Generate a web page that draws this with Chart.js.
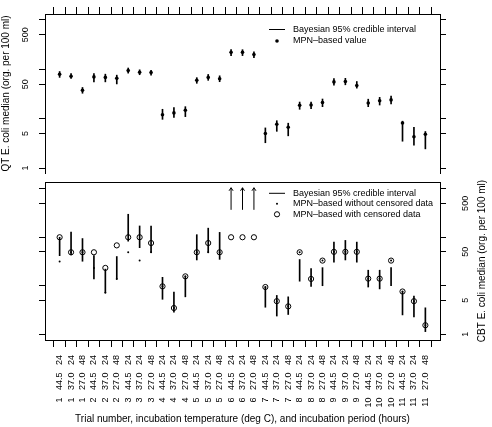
<!DOCTYPE html>
<html>
<head>
<meta charset="utf-8">
<script src="https://cdn.jsdelivr.net/npm/chart.js@4.4.1/dist/chart.umd.min.js"></script>
<style>
  html, body { margin: 0; padding: 0; background: #fff; }
  #wrap { position: relative; width: 492px; height: 427px; }
  canvas { position: absolute; left: 0; }
  #qtChart { top: 0; }
  #cbtChart { top: 177px; }
</style>
</head>
<body>
<div id="wrap">
  <canvas id="qtChart" width="492" height="177"></canvas>
  <canvas id="cbtChart" width="492" height="250"></canvas>
</div>
<script>
// ================================================================
// Dados
// ================================================================
const trialNo  = [1,1,1, 2,2,2, 3,3,3, 4,4,4, 5,5,5, 6,6,6, 7,7,7, 8,8,8, 9,9,9, 10,10,10, 11,11,11];
const incTemp  = ['44.5','37.0','27.0','44.5','37.0','27.0','44.5','37.0','27.0','44.5','37.0','27.0',
                  '44.5','37.0','27.0','44.5','37.0','27.0','44.5','37.0','27.0','44.5','37.0','27.0',
                  '44.5','37.0','27.0','44.5','37.0','27.0','44.5','37.0','27.0'];
const incHours = ['24','24','48','24','24','48','24','24','48','24','24','48',
                  '24','24','48','24','24','48','24','24','48','24','24','48',
                  '24','24','48','24','24','48','24','24','48'];

// QT (painel de cima)
const qtMpn  = [79, 72, 37.5, 70, 68.5, 65.5, 94, 87, 86, 12.0, 13.1, 14.8, 60, 68.5, 64.5, 220, 220, 198,
                5.0, 7.7, 6.7, 18.6, 18.9, 21.3, 55.5, 56.5, 47, 20.7, 23, 24, 8.2, 4.3, 4.85];
const qtLow  = [68.5, 65, 32.7, 55.6, 55.6, 50.5, 83.5, 77.5, 76, 9.7, 10.6, 11, 52, 59.7, 56, 189, 189, 172,
                3.26, 5.55, 4.5, 15.5, 16, 17.5, 47.5, 48.5, 41.5, 17.5, 18.9, 20, 3.5, 2.9, 2.45];
const qtHigh = [90, 82, 42.8, 82, 79.6, 76, 106, 97.5, 95.5, 15.5, 16.7, 17.5, 67.6, 78.5, 73.7, 249, 249, 226,
                6.5, 9.1, 8.1, 21.7, 21.7, 25, 64.5, 65.5, 56.5, 24.8, 27, 28.6, 8.9, 6.7, 5.5];

// CBT (painel de baixo) — null no limite superior = seta (fora da escala)
const cbtMpnCens   = [100, 49, 49, 49, 23.3, 68, 100, 100, 76, 9.7, 3.47, 15.6, 49, 76, 49, 100, 100, 100,
                      9.4, 4.8, 3.75, 49, 13.8, 33, 50, 50, 50, 14, 14, 33, 7.6, 4.8, 1.53];
const cbtMpnNoCens = [31.6, 49, 49, 23.3, 7.2, 13.8, 49, 33, 49, 9.7, 3.47, 15.6, 49, 49, 49, null, null, null,
                      9.4, 4.8, 3.75, 49, 13.8, 33, 50, 50, 50, 14, 14, 33, 7.6, 4.8, 1.53];
const cbtLow  = [41.7, 43, 32, 13.8, 7.2, 13.8, 83, 61, 49, 5.25, 2.84, 5.9, 34, 49, 35, 368, 368, 368,
                 3.6, 2.37, 2.55, 12.4, 9.7, 10, 30.6, 34, 30.6, 9.4, 8.6, 10, 2.5, 2.26, 1.13];
const cbtHigh = [100, 128, 94, 41.7, 22, 40, 298, 171, 171, 14.9, 7.4, 15.6, 113, 154, 126, null, null, null,
                 9.4, 6.3, 5.9, 34.7, 22.6, 23.6, 79.4, 86, 79.4, 20.9, 20.9, 23.6, 7.6, 6.1, 3.5];
const cbtArrowTop = 1050;

// Eixos
const yTicks   = [1, 5, 10, 50, 100, 500, 1000];
const yLabeled = [1, 5, 50, 500];
const catLabels = trialNo.map((t, i) => `${t}   ${incTemp[i]}   ${incHours[i]}`);

const FONT = '"Liberation Sans", Arial, Helvetica, sans-serif';
const legendQt  = ['Bayesian 95% credible interval', 'MPN\u2013based value'];
const legendCbt = ['Bayesian 95% credible interval', 'MPN\u2013based without censored data', 'MPN\u2013based with censored data'];

const pts = (ys) => ys.map((y, i) => ({ x: i + 1, y })).filter(p => p.y !== null);
const bars = (lo, hi) => lo.map((l, i) => ({ x: i + 1, y: hi[i] === null ? null : [l, hi[i]] })).filter(p => p.y !== null);


// ================================================================
// Escalas compartilhadas
// ================================================================
function xAxis(position, showLabels, height) {
    return {
        type: 'linear', position, min: -0.28, max: 34.28, bounds: 'data', offset: false,
        afterBuildTicks: s => { s.ticks = catLabels.map((_, i) => ({ value: i + 1 })); },
        afterFit: s => { s.height = height; },
        grid: { drawOnChartArea: false, drawTicks: true, tickLength: 7, tickColor: '#000' },
        border: { display: true, color: '#000' },
        ticks: {
            display: showLabels, autoSkip: false, minRotation: 90, maxRotation: 90, padding: 8,
            color: '#000', font: { family: FONT, size: 9 },
            callback: v => catLabels[v - 1]
        },
        title: {
            display: showLabels, color: '#000', font: { family: FONT, size: 10 },
            padding: { top: 0, bottom: 2 },
            text: 'Trial number, incubation temperature (deg C), and incubation period (hours)'
        }
    };
}

function yAxis(position, min, max, width, title) {
    return {
        type: 'logarithmic', position, min, max, bounds: 'data',
        afterBuildTicks: s => { s.ticks = yTicks.map(v => ({ value: v })); },
        afterFit: s => { s.width = width; },
        grid: { drawOnChartArea: false, drawTicks: true, tickLength: 6, tickColor: '#000' },
        border: { display: true, color: '#000' },
        ticks: { display: false },
        title: {
            display: !!title, text: title || '', color: '#000',
            font: { family: FONT, size: 10 }, padding: { top: 0, bottom: 0 }
        }
    };
}

function drawRotated(ctx, text, x, y) {
    ctx.save();
    ctx.translate(x, y);
    ctx.rotate(-Math.PI / 2);
    ctx.fillText(text, 0, 0);
    ctx.restore();
}

function drawLegend(ctx, items, y0, step) {
    ctx.font = '9px ' + FONT;
    ctx.textAlign = 'left';
    ctx.textBaseline = 'middle';
    items.forEach((txt, i) => ctx.fillText(txt, 293, y0 + i * step));
    ctx.beginPath();
    ctx.moveTo(269, y0);
    ctx.lineTo(285, y0);
    ctx.stroke();
}


// ================================================================
// 1) Painel de cima — QT
// ================================================================
const qtPlugin = {
    id: 'qtExtras',
    afterDraw(chart) {
        const { ctx } = chart;
        const ys = chart.scales.y;
        ctx.save();
        ctx.fillStyle = '#000';
        ctx.strokeStyle = '#000';
        ctx.lineWidth = 1;
        ctx.font = '9px ' + FONT;
        ctx.textAlign = 'center';
        ctx.textBaseline = 'middle';
        yLabeled.forEach(v => drawRotated(ctx, String(v), 25.5, ys.getPixelForValue(v)));

        drawLegend(ctx, legendQt, 29.5, 11.5);
        ctx.beginPath();
        ctx.arc(277, 41, 1.8, 0, Math.PI * 2);
        ctx.fill();
        ctx.restore();
    }
};

new Chart(document.getElementById('qtChart'), {
    type: 'scatter',
    data: {
        datasets: [
            {
                type: 'scatter', data: pts(qtMpn), order: 1,
                pointRadius: 1.8, pointBackgroundColor: '#000', pointBorderWidth: 0
            },
            {
                type: 'bar', data: bars(qtLow, qtHigh), order: 2,
                barThickness: 1, backgroundColor: '#000', borderWidth: 0, grouped: false
            }
        ]
    },
    options: {
        responsive: false, animation: false, devicePixelRatio: 1,
        layout: { padding: 0 },
        plugins: { legend: { display: false }, tooltip: { enabled: false } },
        scales: {
            x: xAxis('top', false, 14),
            y: yAxis('left', 0.796, 1313, 45, 'QT E. coli median (org. per 100 ml)'),
            yR: yAxis('right', 0.796, 1313, 52)
        }
    },
    plugins: [qtPlugin]
});


// ================================================================
// 2) Painel de baixo — CBT
// ================================================================
const cbtPlugin = {
    id: 'cbtExtras',
    afterDraw(chart) {
        const { ctx, chartArea: a } = chart;
        const xs = chart.scales.x;
        const ys = chart.scales.yR;
        ctx.save();
        ctx.fillStyle = '#000';
        ctx.strokeStyle = '#000';
        ctx.lineWidth = 1;

        // linha divisória entre os painéis
        ctx.beginPath();
        ctx.moveTo(a.left, a.top + 0.5);
        ctx.lineTo(a.right + 1, a.top + 0.5);
        ctx.stroke();

        // setas: limite superior fora da escala
        cbtHigh.forEach((h, i) => {
            if (h !== null) return;
            const x = xs.getPixelForValue(i + 1);
            const y0 = ys.getPixelForValue(cbtLow[i]);
            const y1 = ys.getPixelForValue(cbtArrowTop);
            ctx.beginPath();
            ctx.moveTo(x, y0);
            ctx.lineTo(x, y1);
            ctx.moveTo(x - 2, y1 + 3);
            ctx.lineTo(x, y1);
            ctx.lineTo(x + 2, y1 + 3);
            ctx.stroke();
        });

        ctx.font = '9px ' + FONT;
        ctx.textAlign = 'center';
        ctx.textBaseline = 'middle';
        yLabeled.forEach(v => drawRotated(ctx, String(v), 465.5, ys.getPixelForValue(v)));
        ctx.font = '10px ' + FONT;
        drawRotated(ctx, 'CBT E. coli median (org. per 100 ml)', 482, (a.top + a.bottom) / 2);

        drawLegend(ctx, legendCbt, 16.3, 10.5);
        ctx.beginPath();
        ctx.arc(277, 26.8, 1, 0, Math.PI * 2);
        ctx.fill();
        ctx.beginPath();
        ctx.arc(277, 37.3, 2.6, 0, Math.PI * 2);
        ctx.stroke();
        ctx.restore();
    }
};

new Chart(document.getElementById('cbtChart'), {
    type: 'scatter',
    data: {
        datasets: [
            {
                type: 'scatter', data: pts(cbtMpnNoCens), order: 1,
                pointRadius: 1, pointBackgroundColor: '#000', pointBorderWidth: 0, yAxisID: 'yR'
            },
            {
                type: 'scatter', data: pts(cbtMpnCens), order: 2,
                pointRadius: 2.6, pointBackgroundColor: 'rgba(0,0,0,0)', pointBorderColor: '#000',
                pointBorderWidth: 1, yAxisID: 'yR'
            },
            {
                type: 'bar', data: bars(cbtLow, cbtHigh), order: 3, yAxisID: 'yR',
                barThickness: 1, backgroundColor: '#000', borderWidth: 0, grouped: false
            }
        ]
    },
    options: {
        responsive: false, animation: false, devicePixelRatio: 1,
        layout: { padding: 0 },
        plugins: { legend: { display: false }, tooltip: { enabled: false } },
        scales: {
            x: xAxis('bottom', true, 87),
            y: yAxis('left', 0.759, 1380, 45),
            yR: yAxis('right', 0.759, 1380, 52)
        }
    },
    plugins: [cbtPlugin]
});
</script>
</body>
</html>
